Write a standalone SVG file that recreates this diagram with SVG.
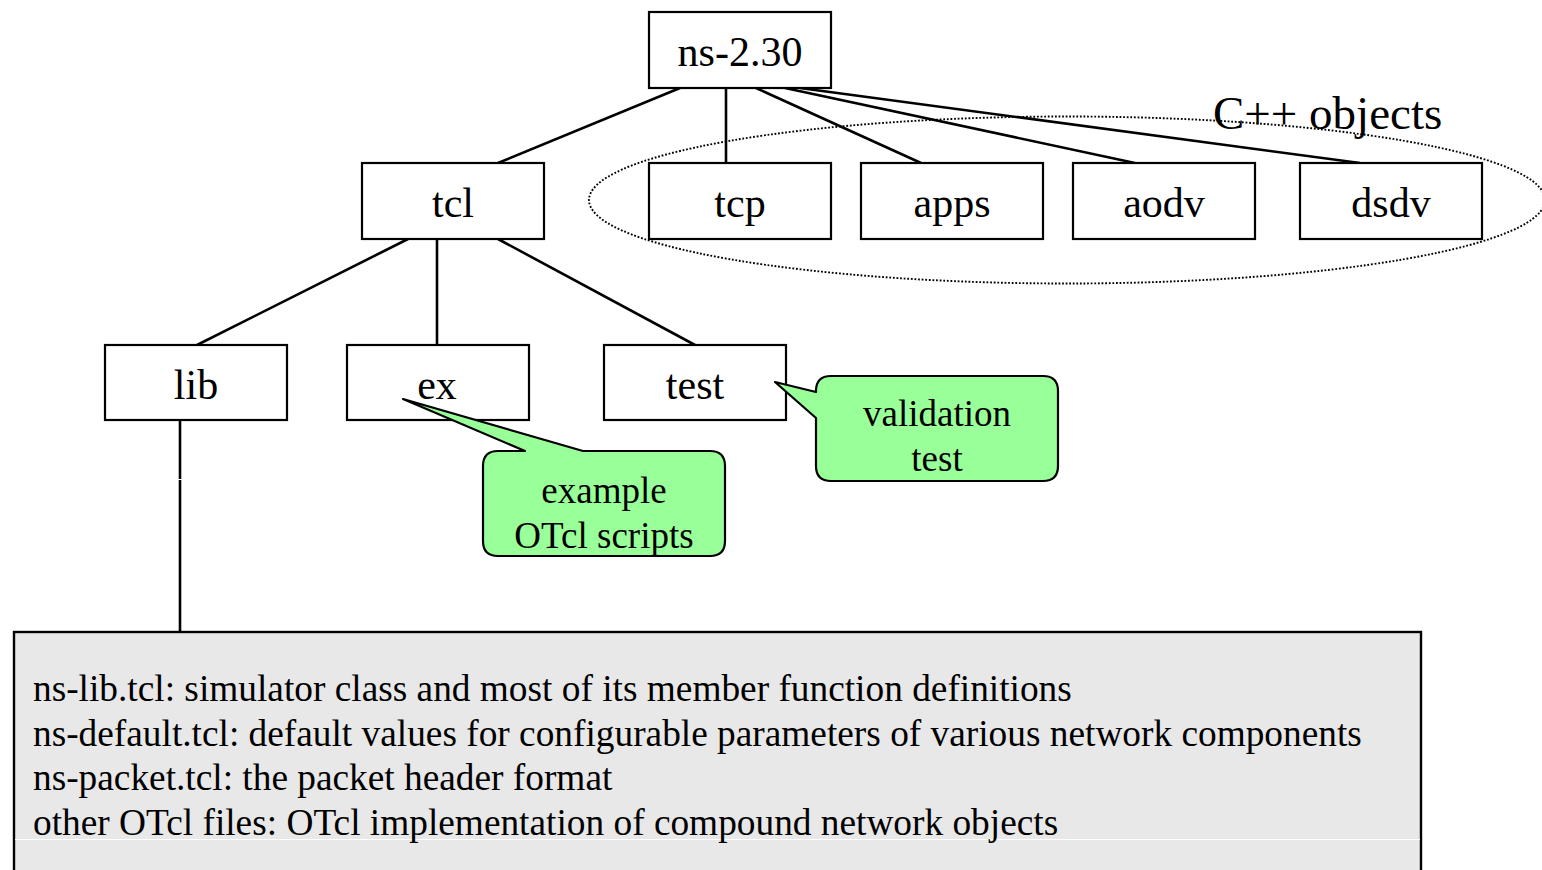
<svg xmlns="http://www.w3.org/2000/svg" width="1542" height="870" viewBox="0 0 1542 870">
  <style>
    .box { fill: #ffffff; stroke: #000000; stroke-width: 2.2; }
    .lbl { font-family: "Liberation Serif", "Times New Roman", serif; font-size: 42px; fill: #000000; text-anchor: middle; }
    .edge { stroke: #000000; stroke-width: 2.6; fill: none; }
    .note { fill: #99ff99; stroke: #000000; stroke-width: 2.2; stroke-linejoin: round; }
    .ntxt { font-family: "Liberation Serif", "Times New Roman", serif; font-size: 37px; fill: #000000; text-anchor: middle; }
    .desc { font-family: "Liberation Serif", "Times New Roman", serif; font-size: 37.35px; fill: #000000; }
  </style>
  <rect width="1542" height="870" fill="#ffffff"/>

  <!-- grouping of the compiled C++ modules -->
  <g id="cpp-group">
    <ellipse cx="1067" cy="200" rx="478" ry="83.5" fill="none" stroke="#000000" stroke-width="1.9" stroke-dasharray="1.8 1.8"/>
  </g>

  <!-- tree edges -->
  <g id="connectors">
    <line class="edge" x1="680" y1="88" x2="498" y2="163"/>
    <line class="edge" x1="726" y1="88" x2="726" y2="163"/>
    <line class="edge" x1="756" y1="88" x2="921" y2="163"/>
    <line class="edge" x1="785" y1="88" x2="1135" y2="163"/>
    <line class="edge" x1="800" y1="88" x2="1360" y2="163"/>
    <line class="edge" x1="408" y1="239" x2="197" y2="345"/>
    <line class="edge" x1="437" y1="239" x2="437" y2="345"/>
    <line class="edge" x1="498" y1="239" x2="695" y2="345"/>
    <line class="edge" x1="180" y1="420" x2="180" y2="633"/>
    <line x1="176" y1="479.5" x2="185" y2="479.5" stroke="#ffffff" stroke-width="1"/>
  </g>

  <g id="node-ns">
    <rect class="box" x="649" y="12" width="182" height="76"/>
    <text class="lbl" x="740" y="66">ns-2.30</text>
  </g>
  <g id="node-tcl">
    <rect class="box" x="362" y="163" width="182" height="76"/>
    <text class="lbl" x="453" y="217">tcl</text>
  </g>
  <g id="node-tcp">
    <rect class="box" x="649" y="163" width="182" height="76"/>
    <text class="lbl" x="740" y="217">tcp</text>
  </g>
  <g id="node-apps">
    <rect class="box" x="861" y="163" width="182" height="76"/>
    <text class="lbl" x="952" y="217">apps</text>
  </g>
  <g id="node-aodv">
    <rect class="box" x="1073" y="163" width="182" height="76"/>
    <text class="lbl" x="1164" y="217">aodv</text>
  </g>
  <g id="node-dsdv">
    <rect class="box" x="1300" y="163" width="182" height="76"/>
    <text class="lbl" x="1391" y="217">dsdv</text>
  </g>
  <g id="node-lib">
    <rect class="box" x="105" y="345" width="182" height="75"/>
    <text class="lbl" x="196" y="399">lib</text>
  </g>
  <g id="node-ex">
    <rect class="box" x="347" y="345" width="182" height="75"/>
    <text class="lbl" x="437" y="399">ex</text>
  </g>
  <g id="node-test">
    <rect class="box" x="604" y="345" width="182" height="75"/>
    <text class="lbl" x="695" y="399">test</text>
  </g>

  <g id="label-cpp">
    <text x="1213" y="129" font-family="'Liberation Serif', 'Times New Roman', serif" font-size="47" fill="#000000">C++ objects</text>
  </g>

  <!-- callout for the ex directory -->
  <g id="note-ex">
    <path class="note" d="M 498 451 L 525 451 L 403 399 L 583 451 L 710 451 Q 725 451 725 466 L 725 541 Q 725 556 710 556 L 498 556 Q 483 556 483 541 L 483 466 Q 483 451 498 451 Z"/>
    <text class="ntxt" x="604" y="503">example</text>
    <text class="ntxt" x="604" y="548">OTcl scripts</text>
  </g>

  <!-- callout for the test directory -->
  <g id="note-test">
    <path class="note" d="M 831 376 L 1043 376 Q 1058 376 1058 391 L 1058 466 Q 1058 481 1043 481 L 831 481 Q 816 481 816 466 L 816 418 L 775 382 L 816 392 L 816 391 Q 816 376 831 376 Z"/>
    <text class="ntxt" x="937" y="426">validation</text>
    <text class="ntxt" x="937" y="471">test</text>
  </g>

  <!-- description of the lib directory contents -->
  <g id="lib-details">
    <rect x="14" y="632" width="1407" height="250" fill="#e8e8e8" stroke="#000000" stroke-width="2.4"/>
    <line x1="15" y1="839.5" x2="1420" y2="839.5" stroke="#ffffff" stroke-width="1"/>
    <text class="desc" x="33" y="701">ns-lib.tcl: simulator class and most of its member function definitions</text>
    <text class="desc" x="33" y="746">ns-default.tcl: default values for configurable parameters of various network components</text>
    <text class="desc" x="33" y="790">ns-packet.tcl: the packet header format</text>
    <text class="desc" x="33" y="835">other OTcl files: OTcl implementation of compound network objects</text>
  </g>
</svg>
